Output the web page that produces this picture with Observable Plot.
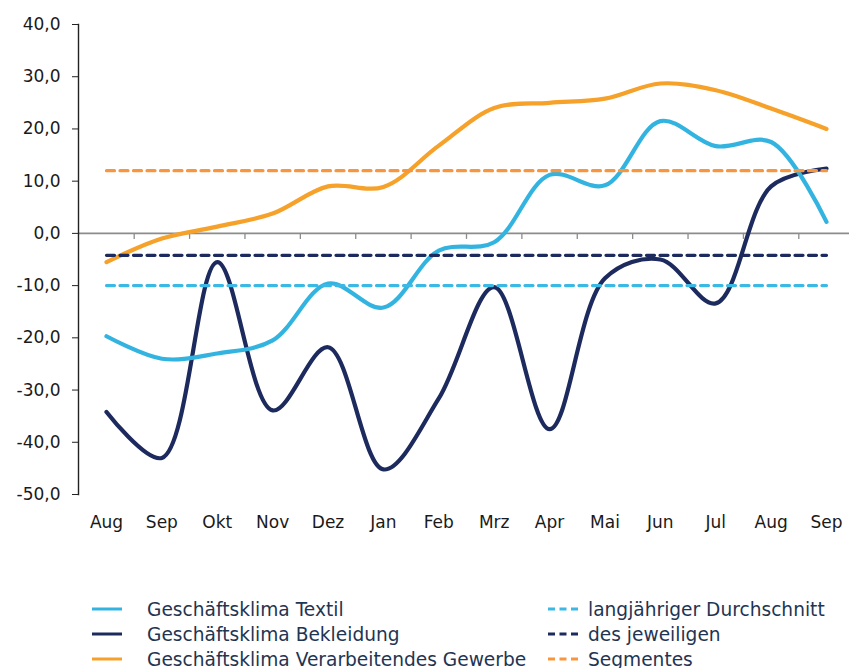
<!DOCTYPE html>
<html><head><meta charset="utf-8">
<script src="https://cdn.jsdelivr.net/npm/d3@7"></script>
<script src="https://cdn.jsdelivr.net/npm/@observablehq/plot@0.6"></script>
<style>
body{margin:0;background:#fff;font-family:"DejaVu Sans",sans-serif;}
#wrap{position:relative;width:849px;height:668px;overflow:hidden;}
#chart{position:absolute;left:0;top:0;}
.row{position:absolute;height:24px;display:flex;align-items:center;font-size:18.6px;color:#1f3552;white-space:nowrap;}
.row svg{display:block;}
</style></head><body>
<div id="wrap"><div id="chart"></div><div id="legend"></div></div>
<script>
const months = ["Aug","Sep","Okt","Nov","Dez","Jan","Feb","Mrz","Apr","Mai","Jun","Jul","Aug","Sep"];
const textil = [-19.7,-24,-23,-20.5,-9.6,-14.2,-3.3,-1.7,11.2,9.2,21.5,16.7,17.5,2.2];
const bekleidung = [-34.2,-43,-5.5,-33.9,-21.8,-45.2,-31.6,-10.3,-37.5,-8.6,-5,-13.4,9,12.4];
const gewerbe = [-5.5,-1,1.3,3.8,9,8.9,16.8,24,25,25.8,28.7,27.4,23.9,20];
const avgTextil = -10;
const avgBekleidung = -4.2;
const avgGewerbe = 12;
const yTicks = [-50,-40,-30,-20,-10,0,10,20,30,40];
const seriesNames = ["Geschäftsklima Textil","Geschäftsklima Bekleidung","Geschäftsklima Verarbeitendes Gewerbe"];
const avgNames = ["langjähriger Durchschnitt","des jeweiligen","Segmentes"];

const colTextil = "#33b4e0", colBekl = "#1c2a5e", colGew = "#f6a129";
const colAvgTextil = "#3cb8e4", colAvgBekl = "#1c2a5e", colAvgGew = "#f7963c";

const idx = d3.range(months.length);
const toRows = (vals) => vals.map((v, i) => ({i, v}));
const flat = (v) => idx.map(i => ({i, v}));
const boundaries = d3.range(months.length - 1).map(i => i + 0.5);

const chart = Plot.plot({
  width: 849, height: 545,
  marginLeft: 78, marginRight: 0, marginTop: 24, marginBottom: 51,
  style: {fontFamily: "DejaVu Sans", fontSize: "17px", color: "#1a1a1a", background: "#fff"},
  x: {type: "linear", domain: [0, months.length - 1], range: [106, 826], label: null},
  y: {domain: [-50, 40], label: null},
  marks: [
    Plot.ruleY([0], {stroke: "#8c8c8c", strokeWidth: 1.6}),
    Plot.ruleX(boundaries, {x: d => d, y1: 0, y2: -1.15, stroke: "#8c8c8c", strokeWidth: 1.3}),
    Plot.frame({anchor: "left", stroke: "#222", strokeWidth: 1.4}),
    Plot.line(toRows(gewerbe), {x: "i", y: "v", stroke: colGew, strokeWidth: 4.2, curve: "catmull-rom"}),
    Plot.line(toRows(bekleidung), {x: "i", y: "v", stroke: colBekl, strokeWidth: 4.2, curve: "catmull-rom"}),
    Plot.line(toRows(textil), {x: "i", y: "v", stroke: colTextil, strokeWidth: 4.2, curve: "catmull-rom"}),
    Plot.line(flat(avgGewerbe), {x: "i", y: "v", stroke: colAvgGew, strokeWidth: 3.2, strokeDasharray: "8,5.5"}),
    Plot.line(flat(avgBekleidung), {x: "i", y: "v", stroke: colAvgBekl, strokeWidth: 3.2, strokeDasharray: "8,5.5"}),
    Plot.line(flat(avgTextil), {x: "i", y: "v", stroke: colAvgTextil, strokeWidth: 3.2, strokeDasharray: "8,5.5"}),
    Plot.axisY(yTicks, {tickSize: 6, tickPadding: 12, stroke: "#222", label: null, tickFormat: d => d.toFixed(1).replace(".", ","), fill: "#1a1a1a"}),
    Plot.axisX(idx, {tickSize: 0, tickPadding: 21, label: null, tickFormat: i => months[i], fill: "#1a1a1a"})
  ]
});
document.getElementById("chart").appendChild(chart);

const legend = document.getElementById("legend");
const solidCols = [colTextil, colBekl, colGew];
const dashCols = [colAvgTextil, colAvgBekl, colAvgGew];
const rowY = [597, 622, 647];
seriesNames.forEach((name, k) => {
  const r = document.createElement("div");
  r.className = "row";
  r.style.left = "92px"; r.style.top = rowY[k] + "px";
  r.innerHTML = `<svg width="30" height="6"><line x1="0" x2="30" y1="3" y2="3" stroke="${solidCols[k]}" stroke-width="3"/></svg><span style="margin-left:25px">${name}</span>`;
  legend.appendChild(r);
});
avgNames.forEach((name, k) => {
  const r = document.createElement("div");
  r.className = "row";
  r.style.left = "548px"; r.style.top = rowY[k] + "px";
  r.innerHTML = `<svg width="30" height="6"><line x1="0" x2="30" y1="3" y2="3" stroke="${dashCols[k]}" stroke-width="3" stroke-dasharray="7,4.5"/></svg><span style="margin-left:10px">${name}</span>`;
  legend.appendChild(r);
});
</script>
</body></html>
